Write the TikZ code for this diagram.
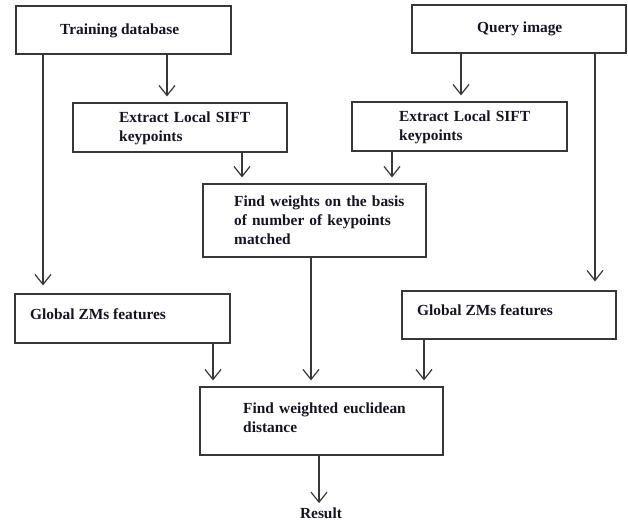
\documentclass[tikz,border=0pt]{standalone}
\usepackage{fontspec}
\setmainfont{Liberation Serif}
\usetikzlibrary{arrows.meta}
\definecolor{edge}{RGB}{55,55,55}
\definecolor{ink}{RGB}{20,20,35}
\begin{document}
\begin{tikzpicture}[x=1pt,y=-1pt,
  box/.style={draw=edge,line width=1.2pt,rectangle,inner sep=0pt},
  txt/.style={inner sep=0pt,anchor=base west,align=left,text=ink,
    font=\fontsize{15.4}{19}\selectfont\bfseries},
  arr/.style={draw=edge,line width=1.2pt,-{Straight Barb[length=10pt,width=16pt]},shorten >=6pt}]
\useasboundingbox[fill=white] (0,0) rectangle (628,522);
% boxes
\node[box,minimum width=215pt,minimum height=48pt] (tdb) at (123.5,30) {};
\node[box,minimum width=214pt,minimum height=49pt] (exL) at (180,127.5) {};
\node[box,minimum width=214pt,minimum height=48pt] (qi) at (519,29) {};
\node[box,minimum width=215pt,minimum height=49pt] (exR) at (459.5,126.5) {};
\node[box,minimum width=223pt,minimum height=73pt] (fw) at (314.5,220.5) {};
\node[box,minimum width=215pt,minimum height=49pt] (gL) at (122.5,318.5) {};
\node[box,minimum width=214pt,minimum height=48pt] (gR) at (509,315) {};
\node[box,minimum width=243pt,minimum height=68pt] (fwe) at (321.5,421) {};
% texts
\node[txt] (tdbt) at (60,34) {Training database};
\node[txt] (qit) at (477,32) {Query image};
\node[txt,text width=170pt] (exLt) at (119,122) {Extract Local SIFT\\keypoints};
\node[txt,text width=170pt] (exRt) at (399,121) {Extract Local SIFT\\keypoints};
\node[txt,text width=190pt] (fwt) at (234,206) {Find weights on the basis\\of number of keypoints\\matched};
\node[txt] (gLt) at (30,319) {Global ZMs features};
\node[txt] (gRt) at (417,315) {Global ZMs features};
\node[txt,text width=190pt] (fwet) at (243,413) {Find weighted euclidean\\distance};
\node[txt,anchor=base] (res) at (321,518) {Result};
% connectors
\draw[arr] (tdb.south -| 167,0) -- (exL.north -| 167,0);
\draw[arr,shorten >=8pt] (tdb.south -| 43,0) -- (gL.north -| 43,0);
\draw[arr] (qi.south -| 461,0) -- (exR.north -| 461,0);
\draw[arr,shorten >=9pt] (qi.south -| 595,0) -- (gR.north -| 595,0);
\draw[arr] (exL.south -| 242,0) -- (fw.north -| 242,0);
\draw[arr] (exR.south -| 392,0) -- (fw.north -| 392,0);
\draw[arr] (gL.south -| 213,0) -- (fwe.north -| 213,0);
\draw[arr] (fw.south -| 311,0) -- (fwe.north -| 311,0);
\draw[arr] (gR.south -| 424,0) -- (fwe.north -| 424,0);
\draw[arr,shorten >=4pt] (fwe.south -| 319,0) -- (res.north -| 319,0);
\end{tikzpicture}
\end{document}
